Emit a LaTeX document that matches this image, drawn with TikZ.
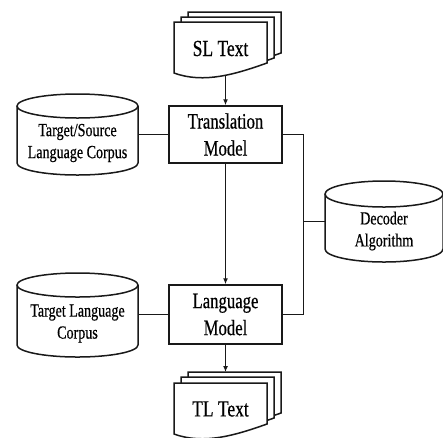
\documentclass[tikz,border=0pt]{standalone}
\usepackage{fontspec}
\setmainfont{Liberation Serif}[FakeStretch=0.76, FakeBold=0.5]
\usetikzlibrary{arrows.meta}
\tikzset{
  line/.style={line width=1.5pt, draw=black!90},
  arr/.style={line, -{Latex[length=6pt,width=5pt]}},
  box/.style={draw=black!90, line width=1.5pt, minimum width=113pt, minimum height=57pt,
    inner sep=0pt, align=center, font=\fontsize{22}{27}\selectfont},
  docnode/.style={inner sep=0pt, minimum width=93pt, minimum height=54pt,
    font=\fontsize{23}{27}\selectfont},
  cylnode/.style={inner sep=0pt},
  cyltext/.style={inner sep=0pt, align=center, font=\fontsize{18.5}{22}\selectfont},
  page/.pic={\draw[line, fill=white] (0,0) -- (93,0) -- (93,-41)
     .. controls (62,-52) and (30,-62) .. (0,-51) -- cycle;}
}
\begin{document}
\begin{tikzpicture}[x=1pt,y=1pt]
\useasboundingbox (0,0) rectangle (443,-437);

% document stacks
\pic at (188,-12) {page};
\pic at (181,-17) {page};
\pic at (174,-22) {page};
\pic at (188,-372) {page};
\pic at (181,-377) {page};
\pic at (174,-383) {page};

% cylinders
\draw[line, fill=white] (17,-106) -- (17,-163)
  arc[start angle=180, end angle=360, x radius=60.5, y radius=12] -- (138,-106);
\draw[line] (77.5,-106) ellipse[x radius=60.5, y radius=12];
\draw[line, fill=white] (17,-285) -- (17,-345)
  arc[start angle=180, end angle=360, x radius=60.5, y radius=12] -- (138,-285);
\draw[line] (77.5,-285) ellipse[x radius=60.5, y radius=12];
\draw[line, fill=white] (325,-194) -- (325,-249)
  arc[start angle=180, end angle=360, x radius=59, y radius=13] -- (443,-194);
\draw[line] (384,-194) ellipse[x radius=59, y radius=13];

% nodes
\node[docnode] (sl) at (220.5,-48.5) {SL Text};
\node[docnode] (tl) at (220.5,-409) {TL Text};
\coordinate (tltop) at (225.5,-372);
\node[box] (tm) at (225.5,-134.5) {Translation\\Model};
\node[box, minimum height=59pt] (lm) at (225.5,-314.5) {Language\\Model};
\node[cylnode, minimum width=121pt, minimum height=81pt] (tsc) at (77.5,-134.5) {};
\node[cylnode, minimum width=121pt, minimum height=84pt] (tlc) at (77.5,-315) {};
\node[cylnode, minimum width=118pt, minimum height=81pt] (dec) at (384,-221.5) {};
\node[cyltext] at ([yshift=-8.5pt]tsc.center) {Target/Source\\Language Corpus};
\node[cyltext] at ([yshift=-8.5pt]tlc.center) {Target Language\\Corpus};
\node[cyltext] at ([yshift=-9.5pt]dec.center) {Decoder\\Algorithm};
\coordinate (jx) at (303.5,-221.5);

% connectors
\draw[arr] (sl.south -| tm.north) -- (tm.north);
\draw[arr] (tm.south) -- (lm.north);
\draw[arr] (lm.south) -- (tltop);
\draw[line] (tsc.east) -- (tm.west);
\draw[line] (lm.west) -- (lm.west -| tlc.east);
\draw[line] (tm.east) -| (jx) |- (lm.east);
\draw[line] (dec.west) -- (jx);
\end{tikzpicture}
\end{document}
